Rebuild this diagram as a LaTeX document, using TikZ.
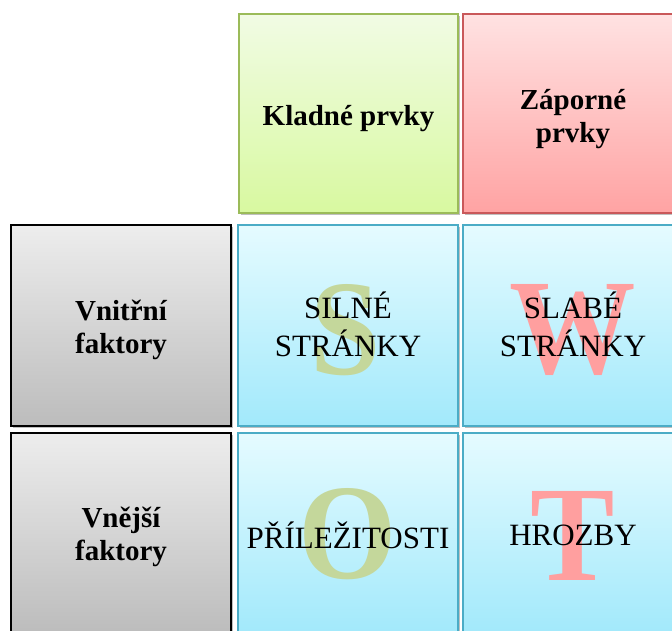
\documentclass[tikz,border=0pt]{standalone}
\usepackage{fontspec}
\setmainfont{Liberation Serif}
\newfontfamily\letterfont[FakeStretch=0.93]{Liberation Serif}
\usetikzlibrary{shadows}
\definecolor{grnTop}{HTML}{F1FBE4}
\definecolor{grnBot}{HTML}{D8F9A0}
\definecolor{grnLine}{HTML}{9BBB59}
\definecolor{redTop}{HTML}{FFE2E2}
\definecolor{redBot}{HTML}{FFA3A3}
\definecolor{redLine}{HTML}{C9585A}
\definecolor{grayTop}{HTML}{EDEDED}
\definecolor{grayBot}{HTML}{BCBCBC}
\definecolor{bluTop}{HTML}{E5FBFF}
\definecolor{bluBot}{HTML}{A2E9FB}
\definecolor{bluLine}{HTML}{4BACC6}
\definecolor{letGreen}{HTML}{C4D79B}
\definecolor{letRed}{HTML}{FF9F9F}
\tikzset{
  cell/.style={rectangle, inner sep=0pt, line width=1.6pt,
    drop shadow={shadow xshift=2pt, shadow yshift=-2pt, fill=black, opacity=.25}},
  greencell/.style={cell, draw=grnLine, top color=grnTop, bottom color=grnBot},
  redcell/.style={cell, draw=redLine, top color=redTop, bottom color=redBot},
  graycell/.style={cell, draw=black, top color=grayTop, bottom color=grayBot},
  bluecell/.style={cell, draw=bluLine, top color=bluTop, bottom color=bluBot},
  headtxt/.style={align=center, font=\fontsize{29}{33}\selectfont\bfseries, inner sep=0pt},
  bodytxt/.style={align=center, font=\fontsize{31}{38}\selectfont, inner sep=0pt},
  bigletter/.style={anchor=base, inner sep=0pt, font=\letterfont\fontsize{136}{136}\selectfont\bfseries}
}
\begin{document}
\begin{tikzpicture}[x=1pt,y=-1pt]
\useasboundingbox (0,0) rectangle (672,630);
\clip (0,0) rectangle (672,630);
% boxes
\node[greencell, minimum width=219pt, minimum height=199pt] (klad) at (348.5,113.5) {};
\node[redcell, minimum width=220pt, minimum height=199pt] (zap) at (573,113.5) {};
\node[graycell, minimum width=220pt, minimum height=201pt] (vni) at (121,325.5) {};
\node[bluecell, minimum width=220pt, minimum height=201pt] (s) at (348,325.5) {};
\node[bluecell, minimum width=220pt, minimum height=201pt] (w) at (573,325.5) {};
\node[graycell, minimum width=220pt, minimum height=201pt] (vne) at (121,533.5) {};
\node[bluecell, minimum width=220pt, minimum height=201pt] (o) at (348,533.5) {};
\node[bluecell, minimum width=220pt, minimum height=201pt] (t) at (573,533.5) {};
% big letters
\node[bigletter, text=letGreen] (ls) at (346,374) {S};
\node[bigletter, text=letRed] (lw) at (572.5,373) {W};
\node[bigletter, text=letGreen] (lo) at (347.5,578) {O};
\node[bigletter, text=letRed] (lt) at (572.5,580) {T};
% texts
\node[headtxt] (tk) at ([yshift=-5pt]klad.center) {Kladné prvky};
\node[headtxt] (tz) at ([yshift=-6pt]zap.center) {Záporné\\prvky};
\node[headtxt] (tvni) at ([yshift=-4pt]vni.center) {Vnitřní\\faktory};
\node[headtxt] (tvne) at ([yshift=-3pt]vne.center) {Vnější\\faktory};
\node[bodytxt] (ts) at ([yshift=1pt]s.center) {SILNÉ\\STRÁNKY};
\node[bodytxt] (tw) at ([yshift=1pt]w.center) {SLABÉ\\STRÁNKY};
\node[bodytxt] (to) at ([yshift=-2pt]o.center) {PŘÍLEŽITOSTI};
\node[bodytxt] (tt) at ([yshift=-2pt]t.center) {HROZBY};
\end{tikzpicture}
\end{document}
